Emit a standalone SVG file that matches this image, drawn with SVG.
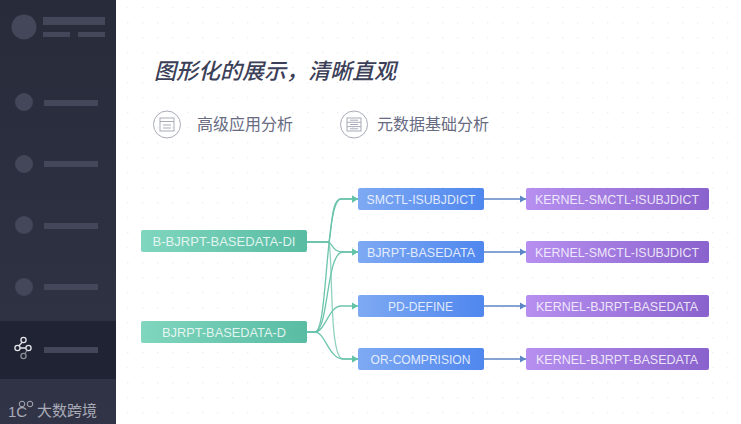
<svg xmlns="http://www.w3.org/2000/svg" width="741" height="424" viewBox="0 0 741 424">
<style>
.bar{fill:#444759}
.dot{fill:#444759}
.n{font-family:"Liberation Sans",Arial,sans-serif;font-size:13px;fill:#fff;fill-opacity:.82;text-anchor:middle}
.cjk{font-family:"Noto Sans CJK SC","Noto Sans",sans-serif}
.sub{font-size:16px;fill:#686b82}
.g{fill:none;stroke:#6cc4ac;stroke-width:1.3}
.b{fill:none;stroke:#5d86c6;stroke-width:1.3}
.ic{fill:none;stroke:#a9abb8;stroke-width:1}
</style>
<defs>
<pattern id="dots" x="7" y="7" width="15" height="15" patternUnits="userSpaceOnUse"><circle cx="0.8" cy="0.8" r="0.8" fill="#e9ebee"/></pattern>
<linearGradient id="side" x1="0" x2="0" y1="0" y2="1"><stop offset="0" stop-color="#282b3a"/><stop offset="1" stop-color="#313446"/></linearGradient>
<linearGradient id="gg" x1="0" x2="1" y1="0" y2="0"><stop offset="0" stop-color="#80d6be"/><stop offset="1" stop-color="#58bca3"/></linearGradient>
<linearGradient id="gb" x1="0" x2="1" y1="0" y2="0"><stop offset="0" stop-color="#7ea9f3"/><stop offset="1" stop-color="#4f87ee"/></linearGradient>
<linearGradient id="gp" x1="0" x2="1" y1="0" y2="0"><stop offset="0" stop-color="#b68ff0"/><stop offset="1" stop-color="#8a62cd"/></linearGradient>
<marker id="ag" markerUnits="userSpaceOnUse" markerWidth="7" markerHeight="8" refX="6" refY="4" orient="auto"><path d="M0 0.500L6 4L0 7.500Z" fill="#62c3a8"/></marker>
<marker id="ab" markerUnits="userSpaceOnUse" markerWidth="7" markerHeight="8" refX="6" refY="4" orient="auto"><path d="M0 0.500L6 4L0 7.500Z" fill="#5d86c6"/></marker>
</defs>
<rect width="741" height="424" fill="#fff"/>
<rect x="116" width="625" height="424" fill="url(#dots)"/>
<g id="sidebar">
<rect width="116" height="424" fill="url(#side)"/>
<rect y="321" width="116" height="58" fill="#202333"/>
<circle class="dot" cx="24" cy="27" r="12.5"/>
<rect class="bar" x="43" y="17" width="62" height="8"/>
<rect class="bar" x="43" y="32" width="27" height="5"/>
<rect class="bar" x="78" y="32" width="27" height="5"/>
<circle class="dot" cx="24" cy="102" r="9"/><rect class="bar" x="44" y="100" width="54" height="6"/>
<circle class="dot" cx="24" cy="164" r="9"/><rect class="bar" x="44" y="161" width="54" height="6"/>
<circle class="dot" cx="24" cy="225" r="9"/><rect class="bar" x="44" y="223" width="54" height="6"/>
<circle class="dot" cx="24" cy="287" r="9"/><rect class="bar" x="44" y="284" width="54" height="6"/>
<rect class="bar" x="44" y="347" width="54" height="6"/>
<g fill="none" stroke="#e4e5ea" stroke-width="1.300"><circle cx="23.500" cy="340" r="2.600"/><circle cx="17.500" cy="348" r="2.600"/><circle cx="28.500" cy="348" r="2.600"/><path d="M22 342.500L19 345.700M20.100 348H25.900"/><circle cx="23.500" cy="356" r="2.600" stroke="#8b8d99"/><path d="M27 350.500L25 353.500" stroke="#8b8d99"/></g>
<g id="logo"><text x="8" y="417" font-family="Liberation Sans,sans-serif" font-size="15" fill="#a9abb6">1C</text><circle cx="22" cy="404" r="2.800" fill="none" stroke="#a9abb6"/><circle cx="30" cy="404" r="2.800" fill="none" stroke="#a9abb6"/>
<text class="cjk" x="37" y="415.500" font-size="15" fill="#a9abb6">大数跨境</text></g>
</g>
<g id="header">
<text class="cjk" x="154" y="79" font-size="22" font-style="italic" font-weight="500" fill="#3c3f58">图形化的展示，清晰直观</text>
</g>
<g id="tab1"><circle class="ic" cx="167" cy="124.500" r="13.500"/><rect class="ic" x="160" y="118" width="14" height="13"/><path class="ic" d="M160 121.500H174M163 125H171M163 128H171"/><text class="cjk sub" x="197" y="130">高级应用分析</text></g>
<g id="tab2"><circle class="ic" cx="354" cy="124.500" r="13.500"/><rect class="ic" x="347" y="118" width="14" height="13"/><path class="ic" d="M347 122.300H361M347 126.600H361M350 120.200H358M350 124.500H358M350 128.800H358"/><text class="cjk sub" x="377" y="130">元数据基础分析</text></g>
<g id="connectors">
<path class="g" marker-end="url(#ag)" d="M307 242H329C332 230 331 199 341 199H358"/>
<path class="g" marker-end="url(#ag)" d="M307 242H329C333 246 334 252 343 252H358"/>
<path class="g" opacity=".75" marker-end="url(#ag)" d="M307 242H329C333 262 329 359 343 359H358"/>
<path class="g" marker-end="url(#ag)" d="M307 332H315C328 332 325 199 341 199H358"/>
<path class="g" marker-end="url(#ag)" d="M307 332H315C329 330 326 252 343 252H358"/>
<path class="g" marker-end="url(#ag)" d="M307 332H315C325 332 329 306 341 306H358"/>
<path class="g" marker-end="url(#ag)" d="M307 332H315C325 332 329 359 343 359H358"/>
<path class="b" marker-end="url(#ab)" d="M484 199H526"/>
<path class="b" marker-end="url(#ab)" d="M484 252H526"/>
<path class="b" marker-end="url(#ab)" d="M484 306H526"/>
<path class="b" marker-end="url(#ab)" d="M484 359H526"/>
</g>
<g id="n1"><rect x="141" y="230" width="166" height="22" rx="2" fill="url(#gg)"/><text class="n" x="224" y="246" textLength="143" lengthAdjust="spacingAndGlyphs">B-BJRPT-BASEDATA-DI</text></g>
<g id="n2"><rect x="141" y="321" width="166" height="22" rx="2" fill="url(#gg)"/><text class="n" x="224" y="337" textLength="124" lengthAdjust="spacingAndGlyphs">BJRPT-BASEDATA-D</text></g>
<g id="n3"><rect x="358" y="188" width="126" height="22" rx="2" fill="url(#gb)"/><text class="n" x="421" y="204" textLength="109" lengthAdjust="spacingAndGlyphs">SMCTL-ISUBJDICT</text></g>
<g id="n4"><rect x="358" y="241" width="126" height="22" rx="2" fill="url(#gb)"/><text class="n" x="421" y="257" textLength="108" lengthAdjust="spacingAndGlyphs">BJRPT-BASEDATA</text></g>
<g id="n5"><rect x="358" y="295" width="126" height="22" rx="2" fill="url(#gb)"/><text class="n" x="420.500" y="311" textLength="65" lengthAdjust="spacingAndGlyphs">PD-DEFINE</text></g>
<g id="n6"><rect x="358" y="348" width="126" height="22" rx="2" fill="url(#gb)"/><text class="n" x="420.500" y="364" textLength="100" lengthAdjust="spacingAndGlyphs">OR-COMPRISION</text></g>
<g id="n7"><rect x="526" y="188" width="183" height="22" rx="2" fill="url(#gp)"/><text class="n" x="617" y="204" textLength="164" lengthAdjust="spacingAndGlyphs">KERNEL-SMCTL-ISUBJDICT</text></g>
<g id="n8"><rect x="526" y="241" width="183" height="22" rx="2" fill="url(#gp)"/><text class="n" x="617" y="257" textLength="164" lengthAdjust="spacingAndGlyphs">KERNEL-SMCTL-ISUBJDICT</text></g>
<g id="n9"><rect x="526" y="295" width="183" height="22" rx="2" fill="url(#gp)"/><text class="n" x="617" y="311" textLength="162" lengthAdjust="spacingAndGlyphs">KERNEL-BJRPT-BASEDATA</text></g>
<g id="n10"><rect x="526" y="348" width="183" height="22" rx="2" fill="url(#gp)"/><text class="n" x="617" y="364" textLength="162" lengthAdjust="spacingAndGlyphs">KERNEL-BJRPT-BASEDATA</text></g>
</svg>
